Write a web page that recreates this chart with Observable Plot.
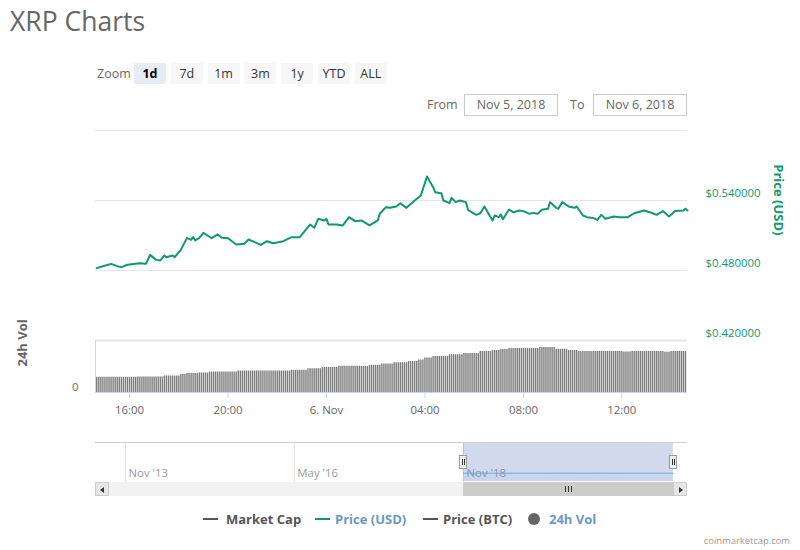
<!DOCTYPE html>
<html>
<head>
<meta charset="utf-8">
<script src="https://cdn.jsdelivr.net/npm/d3@7"></script>
<script src="https://cdn.jsdelivr.net/npm/@observablehq/plot@0.6"></script>
<style>
html,body{margin:0;padding:0;background:#fff;}
#root{position:relative;width:800px;height:550px;overflow:hidden;font-family:"Open Sans",sans-serif;}
#root > *{position:absolute;}
</style>
</head>
<body>
<div id="root"></div>
<script>
// ---------------- DATA ----------------
const priceTimes = [
"2018-11-05T14:40","2018-11-05T14:55","2018-11-05T15:15","2018-11-05T15:30","2018-11-05T15:40","2018-11-05T15:55",
"2018-11-05T16:25","2018-11-05T16:40","2018-11-05T16:50","2018-11-05T17:05","2018-11-05T17:15","2018-11-05T17:25",
"2018-11-05T17:30","2018-11-05T17:45","2018-11-05T17:50","2018-11-05T18:05","2018-11-05T18:20","2018-11-05T18:30",
"2018-11-05T18:35","2018-11-05T18:40","2018-11-05T18:50","2018-11-05T19:00","2018-11-05T19:10","2018-11-05T19:20",
"2018-11-05T19:35","2018-11-05T19:45","2018-11-05T20:00","2018-11-05T20:20","2018-11-05T20:40","2018-11-05T20:50",
"2018-11-05T21:05","2018-11-05T21:20","2018-11-05T21:35","2018-11-05T21:50","2018-11-05T22:15","2018-11-05T22:35",
"2018-11-05T22:55","2018-11-05T23:20","2018-11-05T23:30","2018-11-05T23:40","2018-11-05T23:55","2018-11-06T00:00",
"2018-11-06T00:05","2018-11-06T00:25","2018-11-06T00:40","2018-11-06T00:55","2018-11-06T01:10","2018-11-06T01:25",
"2018-11-06T01:45","2018-11-06T02:05","2018-11-06T02:10","2018-11-06T02:25","2018-11-06T02:35","2018-11-06T02:50",
"2018-11-06T03:00","2018-11-06T03:15","2018-11-06T03:35","2018-11-06T03:50","2018-11-06T04:05","2018-11-06T04:20",
"2018-11-06T04:25","2018-11-06T04:40","2018-11-06T04:45","2018-11-06T05:00","2018-11-06T05:05","2018-11-06T05:15",
"2018-11-06T05:25","2018-11-06T05:40","2018-11-06T05:45","2018-11-06T06:05","2018-11-06T06:15","2018-11-06T06:25",
"2018-11-06T06:35","2018-11-06T06:45","2018-11-06T06:50","2018-11-06T07:00","2018-11-06T07:05","2018-11-06T07:10",
"2018-11-06T07:25","2018-11-06T07:35","2018-11-06T07:50","2018-11-06T08:00","2018-11-06T08:15","2018-11-06T08:25",
"2018-11-06T08:35","2018-11-06T08:45","2018-11-06T09:00","2018-11-06T09:05","2018-11-06T09:20","2018-11-06T09:25",
"2018-11-06T09:35","2018-11-06T09:50","2018-11-06T10:05","2018-11-06T10:10","2018-11-06T10:25","2018-11-06T10:35",
"2018-11-06T10:50","2018-11-06T11:00","2018-11-06T11:10","2018-11-06T11:20","2018-11-06T11:40","2018-11-06T11:55",
"2018-11-06T12:15","2018-11-06T12:30","2018-11-06T12:55","2018-11-06T13:15","2018-11-06T13:25","2018-11-06T13:40",
"2018-11-06T13:55","2018-11-06T14:10","2018-11-06T14:30","2018-11-06T14:35","2018-11-06T14:40"
];
const priceValues = [
0.4820,0.4837,0.4857,0.4837,0.4829,0.4849,
0.4863,0.4857,0.4934,0.4891,0.4886,0.4929,
0.4914,0.4929,0.4914,0.4977,0.5080,0.5063,
0.5086,0.5057,0.5080,0.5123,0.5100,0.5077,
0.5109,0.5080,0.5077,0.5023,0.5029,0.5066,
0.5043,0.5020,0.5051,0.5034,0.5051,0.5086,
0.5086,0.5194,0.5166,0.5243,0.5229,0.5243,
0.5194,0.5194,0.5186,0.5257,0.5223,0.5229,
0.5186,0.5229,0.5286,0.5343,0.5337,0.5349,
0.5377,0.5337,0.5400,0.5443,0.5606,0.5514,
0.5471,0.5463,0.5400,0.5377,0.5423,0.5386,
0.5400,0.5386,0.5320,0.5277,0.5291,0.5349,
0.5286,0.5229,0.5271,0.5257,0.5280,0.5240,
0.5323,0.5300,0.5314,0.5309,0.5286,0.5294,
0.5286,0.5320,0.5329,0.5386,0.5337,0.5329,
0.5386,0.5349,0.5337,0.5349,0.5271,0.5257,
0.5251,0.5234,0.5277,0.5243,0.5263,0.5257,
0.5257,0.5291,0.5314,0.5291,0.5277,0.5309,
0.5263,0.5309,0.5314,0.5329,0.5314
];
const priceGrid = [0.60, 0.54, 0.48, 0.42];
const priceTicks = [0.54, 0.48, 0.42];
const xDomainTimes = ["2018-11-05T14:37", "2018-11-06T14:40"];
const xTickTimes = ["2018-11-05T16:00","2018-11-05T20:00","2018-11-06T00:00","2018-11-06T04:00","2018-11-06T08:00","2018-11-06T12:00"];
const xTickLabels = ["16:00","20:00","6. Nov","04:00","08:00","12:00"];

// 24h volume (millions USD), one bar every 5 minutes from 14:40, one row per hour
const volStart = "2018-11-05T14:40";
const volStepMinutes = 5;
const volValues = [
410,410,410,410,410,410,410,410,410,410,410,410,
410,410,410,410,410,410,410,410,418,418,418,418,
418,418,418,418,418,418,418,418,418,444,444,444,
444,444,444,444,444,482,482,482,509,509,509,509,
509,509,525,525,525,525,525,551,551,551,551,551,
551,551,551,551,551,551,551,551,551,578,578,578,
578,578,578,578,578,578,578,578,578,578,578,578,
578,578,578,578,578,578,578,578,578,578,578,597,
597,597,597,597,597,597,597,642,642,642,642,642,
642,642,677,677,677,677,677,677,677,677,704,704,
704,704,704,704,704,704,704,704,704,704,704,704,
704,731,731,731,731,731,731,766,766,766,766,766,
766,803,803,803,803,803,803,803,838,838,838,838,
838,873,873,873,926,926,926,926,972,972,972,972,
972,972,972,972,1017,1017,1017,1017,1017,1017,1017,1052,
1052,1052,1052,1052,1052,1052,1052,1106,1106,1106,1106,1106,
1106,1132,1132,1132,1132,1159,1159,1159,1159,1186,1186,1186,
1186,1186,1186,1186,1186,1186,1186,1186,1186,1186,1186,1186,
1213,1213,1213,1213,1213,1213,1213,1213,1167,1167,1167,1167,
1167,1167,1132,1132,1132,1132,1132,1106,1106,1106,1106,1106,
1106,1106,1106,1106,1106,1106,1106,1106,1106,1106,1106,1106,
1106,1106,1106,1106,1106,1092,1092,1092,1092,1106,1106,1106,
1106,1106,1106,1106,1106,1106,1106,1106,1106,1106,1106,1106,
1106,1085,1085,1085,1106,1106,1106,1106,1106,1106,1106,1106
];
const volDomain = [0, 1400];
const volTicks = [0];

// navigator
const navRange = ["2013-05-23", "2022-02-23"];
const navTickDates = ["2013-11-01", "2016-05-01", "2018-11-01"];
const navTickLabels = ["Nov '13", "May '16", "Nov '18"];
const navDates = ["2018-11-01", "2019-06-01", "2020-01-01", "2020-08-01", "2021-03-01", "2021-12-09"];
const navValues = [0.53, 0.53, 0.53, 0.535, 0.53, 0.53];
const navSelection = ["2018-11-01", "2021-12-09"];

// UI text
const zoomButtons = ["1d", "7d", "1m", "3m", "1y", "YTD", "ALL"];
const fromDate = "Nov 5, 2018";
const toDate = "Nov 6, 2018";
const legendNames = ["Market Cap", "Price (USD)", "Price (BTC)", "24h Vol"];

// ---------------- BUILD ----------------
const TEAL = "#0e9a6e";
const FONT = "'Open Sans', sans-serif";
const parseT = d3.utcParse("%Y-%m-%dT%H:%M");
const parseD = d3.utcParse("%Y-%m-%d");
const root = document.getElementById("root");

function el(tag, css, text, parent) {
  const e = document.createElement(tag);
  e.style.cssText = "position:absolute;" + css;
  if (text != null) e.textContent = text;
  (parent || root).appendChild(e);
  return e;
}

const priceData = priceTimes.map((t, i) => ({t: parseT(t), p: priceValues[i]}));
const xDomain = xDomainTimes.map(parseT);
const t0 = +parseT(volStart);
const volData = volValues.map((v, i) => ({t: new Date(t0 + i * volStepMinutes * 60000), v}));
const xTicks = xTickTimes.map(parseT);
const xLabelMap = new Map(xTicks.map((d, i) => [+d, xTickLabels[i]]));

// Title
el("div", `left:10px;top:4px;font-size:26.5px;line-height:34px;color:#666;font-family:${FONT};`, "XRP Charts");

// Zoom row
el("div", `left:97px;top:63px;height:21px;line-height:21px;font-size:12.5px;color:#666;font-family:${FONT};`, "Zoom");
zoomButtons.forEach((b, i) => {
  const sel = i === 0;
  el("div", `left:${134 + i * 36.8}px;top:63px;width:32px;height:21px;line-height:21px;text-align:center;` +
    `font-size:12.5px;font-family:${FONT};border-radius:2px;` +
    `background:${sel ? "#e6ebf5" : "#f7f7f7"};color:${sel ? "#000" : "#333"};font-weight:${sel ? "bold" : "normal"};`, b);
});

// From / To
el("div", `left:427px;top:94px;height:22px;line-height:22px;font-size:12.5px;color:#666;font-family:${FONT};`, "From");
el("div", `left:464px;top:94px;width:94px;height:22px;box-sizing:border-box;border:1px solid #ccc;line-height:20px;text-align:center;font-size:12.5px;color:#666;font-family:${FONT};`, fromDate);
el("div", `left:570px;top:94px;height:22px;line-height:22px;font-size:12.5px;color:#666;font-family:${FONT};`, "To");
el("div", `left:593px;top:94px;width:94px;height:22px;box-sizing:border-box;border:1px solid #ccc;line-height:20px;text-align:center;font-size:12.5px;color:#666;font-family:${FONT};`, toDate);

// Price panel
const pricePlot = Plot.plot({
  width: 800, height: 230,
  marginLeft: 95, marginRight: 113, marginTop: 10, marginBottom: 10,
  style: {background: "transparent", fontFamily: FONT, overflow: "visible"},
  x: {type: "utc", domain: xDomain, axis: null},
  y: {domain: [0.42, 0.60]},
  marks: [
    Plot.ruleY(priceGrid, {stroke: "#e6e6e6", strokeWidth: 1, strokeOpacity: 1}),
    Plot.axisY(priceTicks, {anchor: "right", tickSize: 0, tickPadding: 18, dy: -7, fontSize: 11.4,
      tickFormat: d => "$" + d.toFixed(6), color: TEAL, label: null}),
    Plot.line(priceData, {x: "t", y: "p", stroke: TEAL, strokeWidth: 2, strokeLinejoin: "round"}),
    Plot.text(["Price (USD)"], {text: d => d, frameAnchor: "right", dx: 91, rotate: 90,
      fill: TEAL, fontWeight: "bold", fontSize: 13})
  ]
});
pricePlot.style.left = "0px"; pricePlot.style.top = "120px"; pricePlot.style.position = "absolute";
root.appendChild(pricePlot);

// Volume panel
const volPlot = Plot.plot({
  width: 800, height: 85,
  marginLeft: 95, marginRight: 113, marginTop: 5, marginBottom: 28,
  style: {background: "transparent", fontFamily: FONT, overflow: "visible"},
  x: {type: "utc", domain: xDomain},
  y: {domain: volDomain},
  marks: [
    Plot.ruleY([volDomain[1]], {stroke: "#e6e6e6", strokeWidth: 2}),
    Plot.ruleX([xDomain[0]], {stroke: "#d8d8d8", strokeWidth: 1}),
    Plot.ruleX(volData, {x: "t", y1: 0, y2: "v", stroke: "#7a7a7a", strokeWidth: 1.4}),
    Plot.ruleY([0], {stroke: "#ccd6eb", strokeWidth: 1}),
    Plot.axisX(xTicks, {tickSize: 6, tickPadding: 7, fontSize: 11.4, stroke: "#ccd6eb", fill: "#666",
      tickFormat: d => xLabelMap.get(+d), label: null}),
    Plot.axisY(volTicks, {anchor: "left", tickSize: 0, tickPadding: 17, dy: -5, fontSize: 11.4, color: "#666", label: null}),
    Plot.text(["24h Vol"], {text: d => d, frameAnchor: "left", dx: -73, rotate: -90,
      fill: "#666", fontWeight: "bold", fontSize: 13})
  ]
});
volPlot.style.left = "0px"; volPlot.style.top = "335px"; volPlot.style.position = "absolute";
root.appendChild(volPlot);

// Navigator
const navData = navDates.map((d, i) => ({d: parseD(d), v: navValues[i]}));
const navTicks = navTickDates.map((d, i) => ({d: parseD(d), label: navTickLabels[i]}));
const sel = navSelection.map(parseD);
const navPlot = Plot.plot({
  width: 800, height: 50,
  marginLeft: 95, marginRight: 113, marginTop: 6, marginBottom: 5,
  style: {background: "transparent", fontFamily: FONT, overflow: "visible"},
  x: {type: "utc", domain: navRange.map(parseD), axis: null},
  y: {domain: [0, 2.5], axis: null},
  marks: [
    Plot.ruleX(navTicks, {x: "d", stroke: "#e6e6e6", strokeWidth: 1, insetBottom: -2}),
    Plot.text(navTicks, {x: "d", text: "label", frameAnchor: "bottom", dy: -8, dx: 3, textAnchor: "start",
      lineAnchor: "middle", fill: "#999", fontSize: 11.4}),
    Plot.areaY(navData, {x: "d", y: "v", fill: "#7cb5ec", fillOpacity: 0.08}),
    Plot.line(navData, {x: "d", y: "v", stroke: "#7cb5ec", strokeWidth: 1}),
    Plot.rect([sel], {x1: d => d[0], x2: d => d[1], y1: 0, y2: 2.5, fill: "rgb(102,133,194)", fillOpacity: 0.3}),
    Plot.ruleY([2.5], {stroke: "#cccccc", strokeWidth: 1})
  ]
});
navPlot.style.left = "0px"; navPlot.style.top = "436px"; navPlot.style.position = "absolute";
root.appendChild(navPlot);

const nx = navPlot.scale("x");
const sx1 = nx.apply(sel[0]), sx2 = nx.apply(sel[1]);

// Navigator handles
[sx1, sx2].forEach(x => {
  const h = el("div", `left:${x - 4}px;top:455px;width:8px;height:14px;box-sizing:border-box;background:#f2f2f2;border:1px solid #999;`);
  el("div", `left:2px;top:3px;width:1px;height:6px;background:#333;`, null, h);
  el("div", `left:4px;top:3px;width:1px;height:6px;background:#333;`, null, h);
});

// Scrollbar
el("div", `left:95px;top:482px;width:592px;height:14px;background:#f2f2f2;`);
const lb = el("div", `left:95px;top:482px;width:14px;height:14px;box-sizing:border-box;background:#e6e6e6;border:1px solid #ccc;`);
el("div", `left:4px;top:3.5px;width:0;height:0;border-top:3px solid transparent;border-bottom:3px solid transparent;border-right:4px solid #333;`, null, lb);
const thumb = el("div", `left:${sx1}px;top:482px;width:${sx2 - sx1}px;height:14px;box-sizing:border-box;background:#cccccc;border:1px solid #cccccc;`);
[-3, 0, 3].forEach(o => el("div", `left:${(sx2 - sx1) / 2 + o - 1}px;top:3px;width:1px;height:6px;background:#333;`, null, thumb));
const rb = el("div", `left:673px;top:482px;width:14px;height:14px;box-sizing:border-box;background:#e6e6e6;border:1px solid #ccc;`);
el("div", `left:5px;top:3.5px;width:0;height:0;border-top:3px solid transparent;border-bottom:3px solid transparent;border-left:4px solid #333;`, null, rb);

// Legend
const legendSymbols = [
  {kind: "line", left: 203, color: "#555"},
  {kind: "line", left: 315, color: TEAL},
  {kind: "line", left: 423, color: "#555"},
  {kind: "dot", left: 528, color: "#666"}
];
const legendTextLeft = [226, 335, 443, 549];
const legendTextColor = ["#555", "#6d96c9", "#555", "#6d96c9"];
legendNames.forEach((name, i) => {
  const s = legendSymbols[i];
  if (s.kind === "line") el("div", `left:${s.left}px;top:518px;width:15px;height:2px;background:${s.color};`);
  else el("div", `left:${s.left}px;top:513px;width:12px;height:12px;border-radius:50%;background:${s.color};`);
  el("div", `left:${legendTextLeft[i]}px;top:510px;line-height:18px;font-size:13px;font-weight:bold;color:${legendTextColor[i]};font-family:${FONT};white-space:nowrap;`, name);
});

// Credit
el("div", `right:10px;top:534px;line-height:14px;font-size:9.4px;color:#999;font-family:${FONT};`, "coinmarketcap.com");
</script>
</body>
</html>
